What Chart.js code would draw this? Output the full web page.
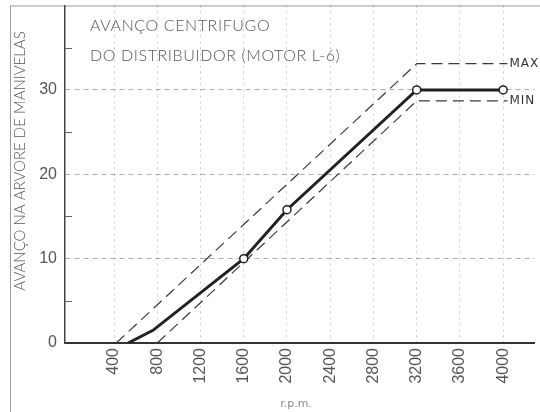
<!DOCTYPE html>
<html>
<head>
<meta charset="utf-8">
<script src="https://cdn.jsdelivr.net/npm/chart.js@4.4.1/dist/chart.umd.min.js"></script>
<style>
  html, body { margin: 0; padding: 0; background: #ffffff; }
  #wrap { width: 540px; height: 412px; position: relative; }
</style>
</head>
<body>
<div id="wrap"><canvas id="c" width="540" height="412"></canvas></div>
<script>
// ---- data ----
const rpmTicks = [400, 800, 1200, 1600, 2000, 2400, 2800, 3200, 3600, 4000];
const advanceTicks = [0, 10, 20, 30];
const minorAdvanceTicks = [5, 15, 25, 35];

const mainRpm = [530, 760, 1600, 2000, 3200, 4000];
const mainAdvance = [0, 1.5, 10, 15.8, 30, 30];
const mainMarkers = [false, false, true, true, true, true];

const maxRpm = [420, 3200, 4040];
const maxAdvance = [0, 33.1, 33.1];

const minRpm = [800, 3200, 4040];
const minAdvance = [0, 28.7, 28.7];

const titleLines = ['AVANÇO CENTRIFUGO', 'DO DISTRIBUIDOR (MOTOR L-6)'];
const yTitle = 'AVANÇO NA ARVORE DE MANIVELAS';
const xTitle = 'r.p.m.';

const toPts = (xs, ys) => xs.map((x, i) => ({ x: x, y: ys[i] }));

const INK = '#222222';
const TEXT = '#555555';

const decor = {
  id: 'decor',
  beforeDraw(chart) {
    const { ctx, chartArea: a } = chart;
    ctx.save();
    ctx.fillStyle = '#ffffff';
    ctx.fillRect(0, 0, chart.width, chart.height);
    // page edge lines of the scan
    ctx.strokeStyle = '#9a9a9a';
    ctx.lineWidth = 1;
    ctx.beginPath();
    ctx.moveTo(10.5, a.top); ctx.lineTo(10.5, chart.height);
    ctx.moveTo(10, a.top + 0.5); ctx.lineTo(chart.width, a.top + 0.5);
    ctx.stroke();
    ctx.restore();
  },
  afterDatasetsDraw(chart) {
    const { ctx, chartArea: a, scales } = chart;
    const y = scales.y;
    ctx.save();
    // inner minor ticks on the y axis
    ctx.strokeStyle = '#666';
    ctx.lineWidth = 1;
    ctx.beginPath();
    minorAdvanceTicks.forEach(v => {
      const py = Math.round(y.getPixelForValue(v)) + 0.5;
      ctx.moveTo(a.left, py); ctx.lineTo(a.left + 7, py);
    });
    ctx.stroke();

    // MAX / MIN labels at the end of the dashed limits
    ctx.fillStyle = '#333';
    ctx.font = '12px "DejaVu Sans", sans-serif';
    ctx.textBaseline = 'middle';
    ctx.textAlign = 'left';
    ctx.letterSpacing = '1px';
    [[1, 'MAX'], [2, 'MIN']].forEach(([di, txt]) => {
      const meta = chart.getDatasetMeta(di);
      const last = meta.data[meta.data.length - 1];
      ctx.fillText(txt, last.x + 2, last.y);
    });

    // chart title
    ctx.fillStyle = TEXT;
    ctx.font = '300 16px Lato, "DejaVu Sans", sans-serif';
    ctx.letterSpacing = '0.6px';
    ctx.textBaseline = 'alphabetic';
    ctx.fillText(titleLines[0], 90, 31);
    ctx.fillText(titleLines[1], 90, 61);

    // y axis title (rotated)
    ctx.save();
    ctx.translate(25, 161);
    ctx.rotate(-Math.PI / 2);
    ctx.textAlign = 'center';
    ctx.font = '300 15px Lato, "DejaVu Sans", sans-serif';
    ctx.letterSpacing = '0px';
    ctx.fillText(yTitle, 0, 0);
    ctx.restore();

    // x axis title
    ctx.font = '11px "DejaVu Sans", sans-serif';
    ctx.letterSpacing = '0px';
    ctx.fillStyle = '#8a8a8a';
    ctx.textAlign = 'center';
    ctx.fillText(xTitle, 296, 407);
    ctx.restore();
  }
};

new Chart(document.getElementById('c'), {
  type: 'scatter',
  data: {
    datasets: [
      {
        label: 'curva',
        data: toPts(mainRpm, mainAdvance),
        showLine: true,
        borderColor: INK,
        borderWidth: 3,
        pointRadius: mainMarkers.map(m => m ? 4 : 0),
        pointBackgroundColor: '#ffffff',
        pointBorderColor: INK,
        pointBorderWidth: 1.5,
        tension: 0
      },
      {
        label: 'MAX',
        data: toPts(maxRpm, maxAdvance),
        showLine: true,
        borderColor: '#3a3a3a',
        borderWidth: 1.2,
        borderDash: [11, 6],
        pointRadius: 0
      },
      {
        label: 'MIN',
        data: toPts(minRpm, minAdvance),
        showLine: true,
        borderColor: '#3a3a3a',
        borderWidth: 1.2,
        borderDash: [11, 6],
        pointRadius: 0
      }
    ]
  },
  options: {
    responsive: false,
    animation: false,
    devicePixelRatio: 1,
    layout: { padding: { top: 5, right: 0, left: 0, bottom: 0 } },
    plugins: {
      legend: { display: false },
      tooltip: { enabled: false },
      title: { display: false }
    },
    scales: {
      x: {
        type: 'linear',
        min: -54,
        max: 4290,
        afterBuildTicks: s => { s.ticks = rpmTicks.map(v => ({ value: v })); },
        afterFit: s => { s.height = 69; s.paddingLeft = 0; s.paddingRight = 0; },
        ticks: {
          autoSkip: false,
          minRotation: 90,
          maxRotation: 90,
          padding: 5,
          color: '#555',
          font: { family: '"Liberation Sans", Arial, sans-serif', size: 16 },
          callback: v => String(v)
        },
        grid: {
          color: 'rgba(0,0,0,0.2)',
          lineWidth: 1,
          drawTicks: false
        },
        border: { display: true, color: '#333', width: 2, dash: [2, 4] }
      },
      y: {
        type: 'linear',
        min: 0,
        max: 40,
        afterBuildTicks: s => { s.ticks = advanceTicks.map(v => ({ value: v })); },
        afterFit: s => { s.width = 65; s.paddingTop = 0; s.paddingBottom = 0; },
        ticks: {
          padding: 8,
          color: '#555',
          font: { family: '"Liberation Sans Narrow", "Liberation Sans", sans-serif', size: 16 },
          callback: v => String(v)
        },
        grid: {
          color: ctx => ctx.tick && ctx.tick.value === 0 ? 'rgba(0,0,0,0)' : 'rgba(0,0,0,0.32)',
          lineWidth: 1,
          drawTicks: false
        },
        border: { display: true, color: '#444', width: 1.5, dash: [5, 4] }
      }
    }
  },
  plugins: [decor]
});
</script>
</body>
</html>
